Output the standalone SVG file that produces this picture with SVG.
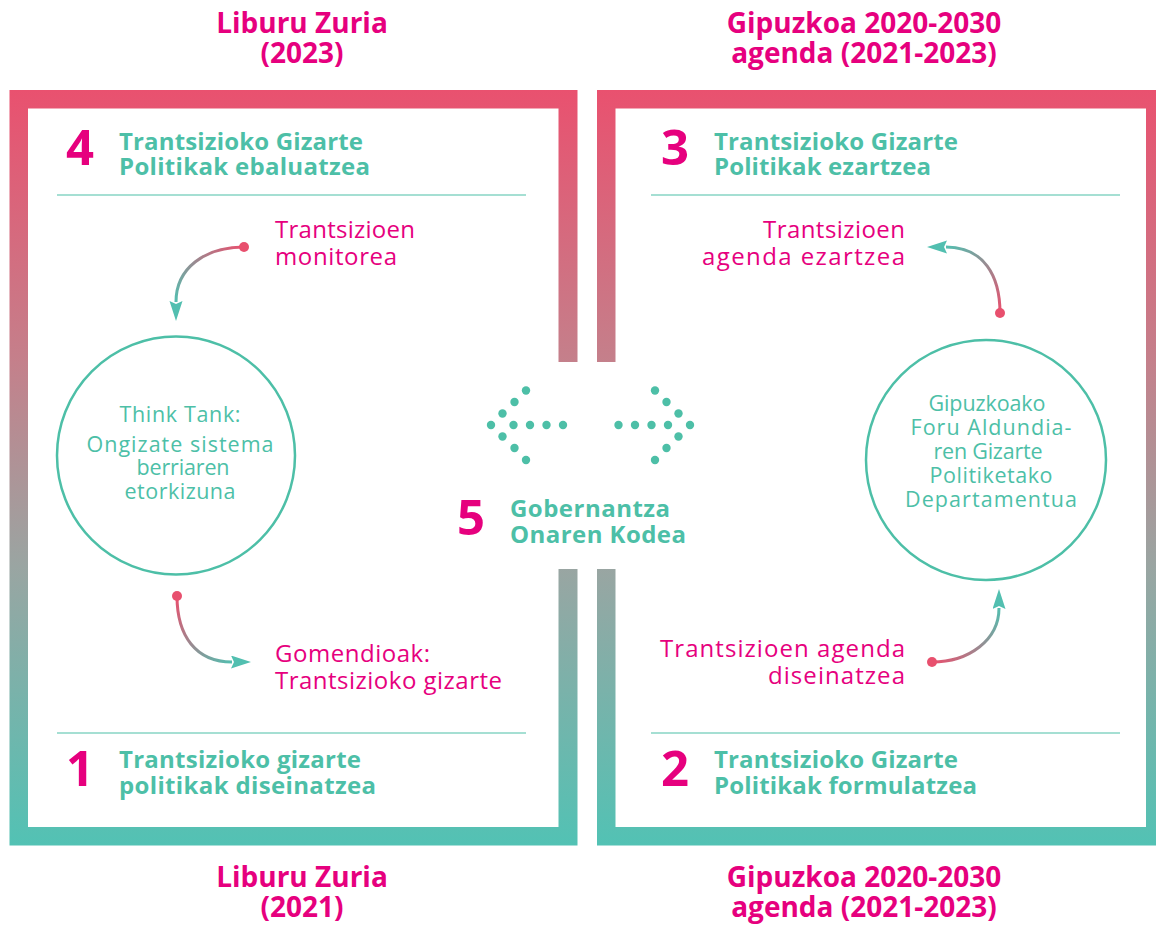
<svg xmlns="http://www.w3.org/2000/svg" width="1156" height="926" viewBox="0 0 1156 926">
<style>
.title{font-family:"Open Sans","Liberation Sans",sans-serif;font-weight:700;font-size:28px;fill:#E6007E;text-anchor:middle}
.head{font-family:"Open Sans","Liberation Sans",sans-serif;font-weight:700;font-size:24px;fill:#4DBFA7}
.num{font-family:"Open Sans","Liberation Sans",sans-serif;font-weight:700;font-size:49px;fill:#E6007E}
.lab{font-family:"Open Sans","Liberation Sans",sans-serif;font-weight:400;font-size:24px;fill:#E6007E}
.circ{font-family:"Open Sans","Liberation Sans",sans-serif;font-weight:400;font-size:21.5px;fill:#4DBFA7;text-anchor:middle}
.ring{fill:#fff;stroke:#4DBFA7;stroke-width:2.5}
.sep{stroke:#4DBFA7;stroke-width:1.2}
.arr{fill:none;stroke-width:3}
.dot{fill:#E8506E}
.gd{fill:#4DBFA7}
</style>
<defs>
<linearGradient id="fg" x1="0" y1="0" x2="0" y2="1">
<stop offset="0" stop-color="#E9516F"/>
<stop offset="0.36" stop-color="#C4808B"/>
<stop offset="0.63" stop-color="#9AA5A2"/>
<stop offset="1" stop-color="#52C2B4"/>
</linearGradient>
<linearGradient id="a1" gradientUnits="userSpaceOnUse" x1="244" y1="247" x2="176" y2="305"><stop offset="0" stop-color="#E8506E"/><stop offset="1" stop-color="#52BFB0"/></linearGradient>
<linearGradient id="a2" gradientUnits="userSpaceOnUse" x1="177" y1="596" x2="235" y2="662"><stop offset="0" stop-color="#E8506E"/><stop offset="1" stop-color="#52BFB0"/></linearGradient>
<linearGradient id="a3" gradientUnits="userSpaceOnUse" x1="1000" y1="313" x2="944" y2="247"><stop offset="0" stop-color="#E8506E"/><stop offset="1" stop-color="#52BFB0"/></linearGradient>
<linearGradient id="a4" gradientUnits="userSpaceOnUse" x1="932" y1="662" x2="999" y2="605"><stop offset="0" stop-color="#E8506E"/><stop offset="1" stop-color="#52BFB0"/></linearGradient>
<marker id="ah" markerUnits="userSpaceOnUse" markerWidth="22" markerHeight="14" refX="1" refY="6.5" orient="auto">
<path d="M0,0 L20,6.5 L0,13 L3,6.5 z" fill="#52BFB0"/>
</marker>
</defs>
<rect width="1156" height="926" fill="#fff"/>

<g id="frame-left">
<rect x="9.5" y="90" width="568" height="755.5" fill="url(#fg)"/>
<rect x="28" y="108.5" width="530.5" height="718.5" fill="#fff"/>
<rect x="558" y="362" width="20" height="207" fill="#fff"/>
</g>
<g id="frame-right">
<rect x="597" y="90" width="568" height="755.5" fill="url(#fg)"/>
<rect x="615.5" y="108.5" width="530.5" height="718.5" fill="#fff"/>
<rect x="596" y="362" width="20.5" height="207" fill="#fff"/>
</g>

<g id="titles">
<text class="title" x="302" y="33">Liburu Zuria</text>
<text class="title" x="302" y="63">(2023)</text>
<text class="title" x="864" y="33">Gipuzkoa 2020-2030</text>
<text class="title" x="864" y="63">agenda (2021-2023)</text>
<text class="title" x="302" y="887">Liburu Zuria</text>
<text class="title" x="302" y="917">(2021)</text>
<text class="title" x="864" y="887">Gipuzkoa 2020-2030</text>
<text class="title" x="864" y="917">agenda (2021-2023)</text>
</g>

<g id="stage-4">
<text class="num" x="66" y="165">4</text>
<text class="head" x="119" y="150" textLength="244">Trantsizioko Gizarte</text>
<text class="head" x="119" y="175" textLength="251">Politikak ebaluatzea</text>
<line class="sep" x1="57" y1="195" x2="526" y2="195"/>
</g>
<g id="stage-3">
<text class="num" x="661" y="165">3</text>
<text class="head" x="714" y="150" textLength="244">Trantsizioko Gizarte</text>
<text class="head" x="714" y="175" textLength="217">Politikak ezartzea</text>
<line class="sep" x1="651" y1="195" x2="1120" y2="195"/>
</g>
<g id="stage-1">
<line class="sep" x1="57" y1="733" x2="526" y2="733"/>
<text class="num" x="66" y="786">1</text>
<text class="head" x="119" y="768" textLength="242">Trantsizioko gizarte</text>
<text class="head" x="119" y="794" textLength="257">politikak diseinatzea</text>
</g>
<g id="stage-2">
<line class="sep" x1="651" y1="733" x2="1120" y2="733"/>
<text class="num" x="661" y="786">2</text>
<text class="head" x="714" y="768" textLength="244">Trantsizioko Gizarte</text>
<text class="head" x="714" y="794" textLength="263">Politikak formulatzea</text>
</g>
<g id="stage-5">
<text class="num" x="457" y="535">5</text>
<text class="head" x="510" y="517" textLength="160">Gobernantza</text>
<text class="head" x="510" y="543" textLength="176">Onaren Kodea</text>
</g>

<g id="think-tank">
<circle class="ring" cx="176" cy="455.5" r="119"/>
<text class="circ" x="180" y="422" textLength="121">Think Tank:</text>
<text class="circ" x="180" y="452" textLength="187">Ongizate sistema</text>
<text class="circ" x="183" y="475" textLength="93">berriaren</text>
<text class="circ" x="180" y="499" textLength="111">etorkizuna</text>
</g>
<g id="departamentua">
<circle class="ring" cx="986" cy="460" r="120"/>
<text class="circ" x="987" y="411" textLength="117">Gipuzkoako</text>
<text class="circ" x="991" y="435" textLength="161">Foru Aldundia-</text>
<text class="circ" x="988" y="459" textLength="109">ren Gizarte</text>
<text class="circ" x="991" y="483" textLength="123">Politiketako</text>
<text class="circ" x="991" y="507" textLength="172">Departamentua</text>
</g>

<g id="labels">
<text class="lab" x="275" y="238" textLength="140">Trantsizioen</text>
<text class="lab" x="275" y="265" textLength="122">monitorea</text>
<text class="lab" x="275" y="662" textLength="155">Gomendioak:</text>
<text class="lab" x="275" y="689" textLength="227">Trantsizioko gizarte</text>
<text class="lab" x="905" y="238" text-anchor="end" textLength="142">Trantsizioen</text>
<text class="lab" x="905" y="265" text-anchor="end" textLength="203">agenda ezartzea</text>
<text class="lab" x="905" y="657" text-anchor="end" textLength="245">Trantsizioen agenda</text>
<text class="lab" x="905" y="684" text-anchor="end" textLength="137">diseinatzea</text>
</g>

<g id="connectors">
<path class="arr" stroke="url(#a1)" d="M244,247 C205,247 176,268 176,302" marker-end="url(#ah)"/>
<circle class="dot" cx="244" cy="247" r="5"/>
<path class="arr" stroke="url(#a2)" d="M177,596 C177,636 196,662 232,662" marker-end="url(#ah)"/>
<circle class="dot" cx="177" cy="596" r="5"/>
<path class="arr" stroke="url(#a3)" d="M1000,313 C1000,276 984,247 946,247" marker-end="url(#ah)"/>
<circle class="dot" cx="1000" cy="313" r="5"/>
<path class="arr" stroke="url(#a4)" d="M932,662 C969,662 999,640 999,608" marker-end="url(#ah)"/>
<circle class="dot" cx="932" cy="662" r="5"/>
</g>

<g id="dot-arrows">
<circle class="gd" cx="491" cy="425" r="4.2"/>
<circle class="gd" cx="513.5" cy="425" r="4.2"/>
<circle class="gd" cx="530" cy="425" r="4.2"/>
<circle class="gd" cx="546.5" cy="425" r="4.2"/>
<circle class="gd" cx="563" cy="425" r="4.2"/>
<circle class="gd" cx="526" cy="390.5" r="4.2"/>
<circle class="gd" cx="514.5" cy="402" r="4.2"/>
<circle class="gd" cx="502.5" cy="413.5" r="4.2"/>
<circle class="gd" cx="502.5" cy="436.5" r="4.2"/>
<circle class="gd" cx="514.5" cy="448" r="4.2"/>
<circle class="gd" cx="526" cy="460" r="4.2"/>
<circle class="gd" cx="618.5" cy="425" r="4.2"/>
<circle class="gd" cx="635" cy="425" r="4.2"/>
<circle class="gd" cx="651.5" cy="425" r="4.2"/>
<circle class="gd" cx="668" cy="425" r="4.2"/>
<circle class="gd" cx="690" cy="425" r="4.2"/>
<circle class="gd" cx="655" cy="390.5" r="4.2"/>
<circle class="gd" cx="666.5" cy="402" r="4.2"/>
<circle class="gd" cx="678.5" cy="413.5" r="4.2"/>
<circle class="gd" cx="678.5" cy="436.5" r="4.2"/>
<circle class="gd" cx="666.5" cy="448" r="4.2"/>
<circle class="gd" cx="655" cy="460" r="4.2"/>
</g>
</svg>
